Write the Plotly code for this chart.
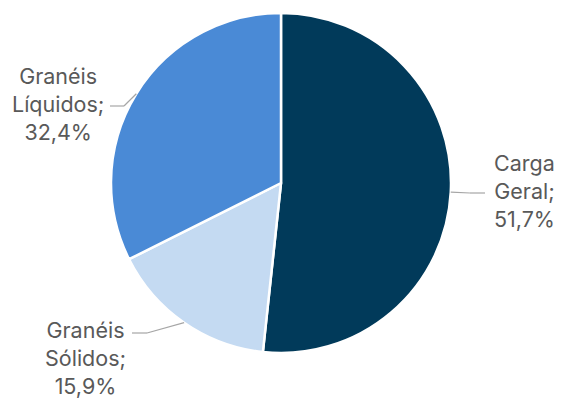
import math
import plotly.graph_objects as go

# Cargo share by type (%)
categories = ["Carga Geral", "Granéis Sólidos", "Granéis Líquidos"]
shares = [51.7, 15.9, 32.4]
colors = ["#013a5a", "#c4daf2", "#4a8ad6"]

W, H = 562, 398
CX, CY, R = 281, 183, 170  # pie centre and radius in pixels

def px(x):
    return x / W

def py(y):
    return 1 - y / H

fig = go.Figure(go.Pie(
    labels=categories,
    values=shares,
    sort=False,
    direction="clockwise",
    rotation=0,
    marker=dict(colors=colors, line=dict(color="white", width=2.5)),
    textinfo="none",
    hoverinfo="label+percent",
    domain=dict(x=[px(CX - R), px(CX + R)], y=[py(CY + R), py(CY - R)]),
    showlegend=False,
))

# Label block centres and leader-line elbows (pixels)
label_pos = [(524, 191), (85, 358), (58, 104)]
elbows = [((470, 193), (485, 193)), ((147, 333), (132, 333)), ((124, 106), (110, 106))]

def fmt(v):
    return f"{v:.1f}".replace(".", ",") + "%"

total = sum(shares)
cum = 0.0
shapes = []
annotations = []
for name, v, (lx, ly), (e1, e2) in zip(categories, shares, label_pos, elbows):
    mid = (cum + v / 2) / total * 2 * math.pi
    cum += v
    sx = CX + R * math.sin(mid)
    sy = CY - R * math.cos(mid)
    for (x0, y0), (x1, y1) in [((sx, sy), e1), (e1, e2)]:
        shapes.append(dict(type="line", xref="paper", yref="paper",
                           x0=px(x0), y0=py(y0), x1=px(x1), y1=py(y1),
                           line=dict(color="#a6a6a6", width=1.2)))
    words = name.split(" ")
    text = "<br>".join(words[:-1] + [words[-1] + ";", fmt(v)])
    annotations.append(dict(x=px(lx), y=py(ly), xref="paper", yref="paper",
                            text=text, showarrow=False, align="center",
                            xanchor="center", yanchor="middle",
                            font=dict(family="Inter", size=21.5, color="#595959")))

fig.update_layout(
    width=W, height=H,
    margin=dict(l=0, r=0, t=0, b=0),
    paper_bgcolor="white",
    shapes=shapes,
    annotations=annotations,
)

fig.write_html("out.html")
